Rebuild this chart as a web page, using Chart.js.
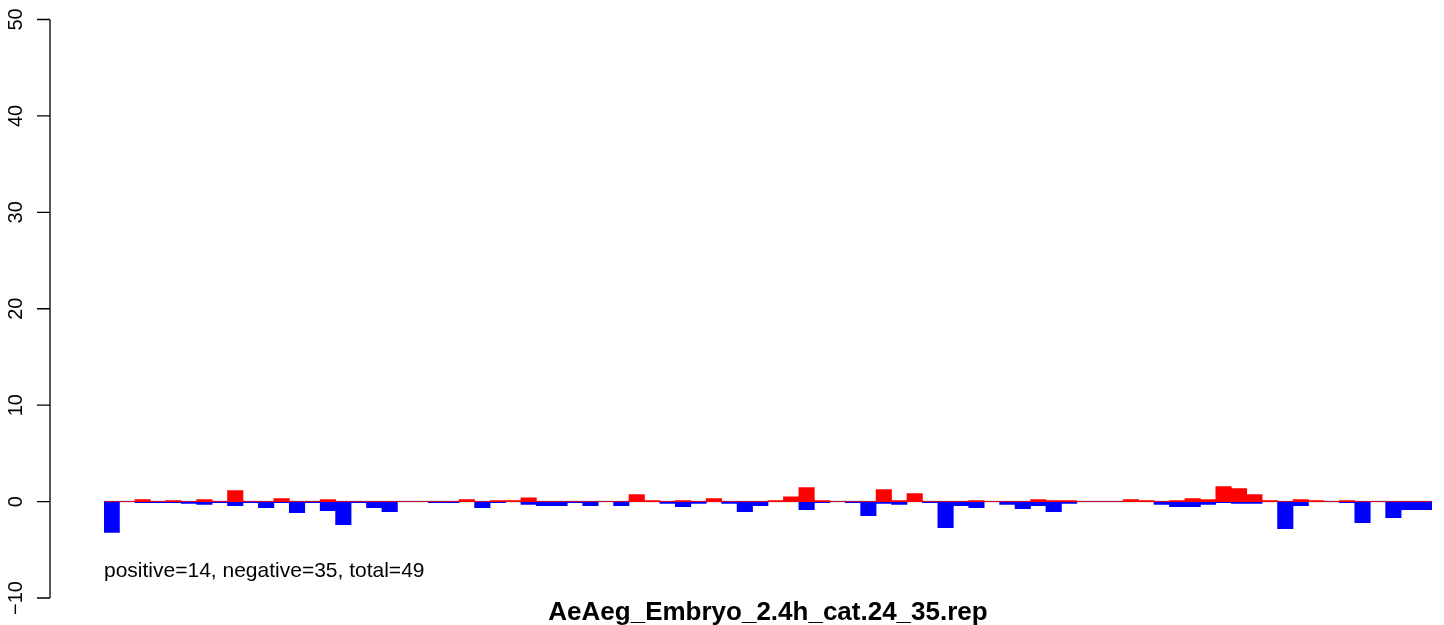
<!DOCTYPE html>
<html>
<head>
<meta charset="utf-8">
<script src="https://cdn.jsdelivr.net/npm/chart.js@4"></script>
<style>
  body { margin: 0; background: #fff; }
</style>
</head>
<body>
<canvas id="repChart" width="1444" height="625"></canvas>
<script>
const positions = Array.from({ length: 86 }, (_, i) => String(i + 1));

const positiveValues = [
    0, 0, 0.2, 0, 0.1, 0, 0.2, 0, 1.15, 0,
    0, 0.3, 0, 0, 0.2, 0, 0, 0, 0, 0,
    0, 0, 0, 0.2, 0, 0.1, 0.1, 0.4, 0, 0,
    0, 0, 0, 0, 0.73, 0.1, 0, 0.1, 0, 0.3,
    0, 0, 0, 0.1, 0.5, 1.46, 0.1, 0, 0, 0,
    1.25, 0.1, 0.83, 0, 0, 0, 0.1, 0, 0, 0,
    0.2, 0.1, 0.1, 0, 0, 0, 0.2, 0.1, 0, 0.1,
    0.3, 0.2, 1.56, 1.35, 0.73, 0.1, 0, 0.2, 0.1, 0,
    0.1, 0, 0, 0, 0, 0
];

const negativeValues = [
    -3.2, 0, -0.1, -0.1, -0.1, -0.2, -0.3, -0.1, -0.42, -0.1,
    -0.62, -0.1, -1.15, -0.1, -0.94, -2.4, -0.1, -0.62, -1.04, 0,
    0, -0.1, -0.1, 0, -0.62, -0.1, 0, -0.3, -0.42, -0.42,
    -0.1, -0.42, 0, -0.42, 0, 0, -0.2, -0.52, -0.2, 0,
    -0.2, -1.04, -0.42, 0, 0, -0.83, -0.1, 0, -0.1, -1.46,
    -0.2, -0.3, 0, -0.1, -2.7, -0.42, -0.62, 0, -0.3, -0.73,
    -0.42, -1.04, -0.2, 0, 0, 0, 0, 0, -0.3, -0.52,
    -0.52, -0.3, -0.1, -0.2, -0.2, 0, -2.8, -0.42, 0, 0,
    -0.1, -2.19, 0, -1.67, -0.83, -0.83
];

const yTicks = [-10, 0, 10, 20, 30, 40, 50];

const noteText = 'positive=14, negative=35, total=49';
const titleText = 'AeAeg_Embryo_2.4h_cat.24_35.rep';

const fontFamily = '"Liberation Sans", Arial, Helvetica, sans-serif';

// R-like axis, zero line and captions
const rDecor = {
    id: 'rDecor',
    beforeDatasetsDraw(chart) {
        const { ctx, chartArea, scales } = chart;
        const y0 = scales.y.getPixelForValue(0);
        ctx.save();
        ctx.strokeStyle = '#a0a0a0';
        ctx.lineWidth = 1.5;
        ctx.beginPath();
        ctx.moveTo(chartArea.left, y0);
        ctx.lineTo(chartArea.right, y0);
        ctx.stroke();
        ctx.restore();
    },
    afterDraw(chart) {
        const { ctx, chartArea, scales } = chart;
        const y = scales.y;
        const axisX = 50;
        ctx.save();
        ctx.strokeStyle = '#000';
        ctx.lineWidth = 1.3;
        ctx.beginPath();
        ctx.moveTo(axisX, y.getPixelForValue(yTicks[0]));
        ctx.lineTo(axisX, y.getPixelForValue(yTicks[yTicks.length - 1]));
        yTicks.forEach(t => {
            const py = y.getPixelForValue(t);
            ctx.moveTo(axisX, py);
            ctx.lineTo(37, py);
        });
        ctx.stroke();

        ctx.fillStyle = '#000';
        ctx.font = '20px ' + fontFamily;
        ctx.textAlign = 'center';
        ctx.textBaseline = 'alphabetic';
        yTicks.forEach(t => {
            const py = y.getPixelForValue(t);
            ctx.save();
            ctx.translate(22, py);
            ctx.rotate(-Math.PI / 2);
            ctx.fillText(t < 0 ? '\u2212' + Math.abs(t) : String(t), 0, 0);
            ctx.restore();
        });

        ctx.font = '21px ' + fontFamily;
        ctx.textAlign = 'left';
        ctx.fillText(noteText, chartArea.left, 577);

        ctx.font = 'bold 26px ' + fontFamily;
        ctx.textAlign = 'center';
        ctx.fillText(titleText, (chartArea.left + chartArea.right) / 2, 620);
        ctx.restore();
    }
};

new Chart(document.getElementById('repChart'), {
    type: 'bar',
    data: {
        labels: positions,
        datasets: [
            {
                label: 'positive',
                data: positiveValues,
                backgroundColor: '#ff0000',
                borderWidth: 0,
                grouped: false,
                categoryPercentage: 1,
                barPercentage: 1
            },
            {
                label: 'negative',
                data: negativeValues,
                backgroundColor: '#0000ff',
                borderWidth: 0,
                grouped: false,
                categoryPercentage: 1,
                barPercentage: 1
            }
        ]
    },
    options: {
        responsive: false,
        animation: false,
        layout: {
            padding: { left: 104, right: 12, top: 19.5, bottom: 27 }
        },
        scales: {
            x: { display: false },
            y: { display: false, min: -10, max: 50 }
        },
        plugins: {
            legend: { display: false },
            tooltip: { enabled: false }
        }
    },
    plugins: [rDecor]
});
</script>
</body>
</html>
